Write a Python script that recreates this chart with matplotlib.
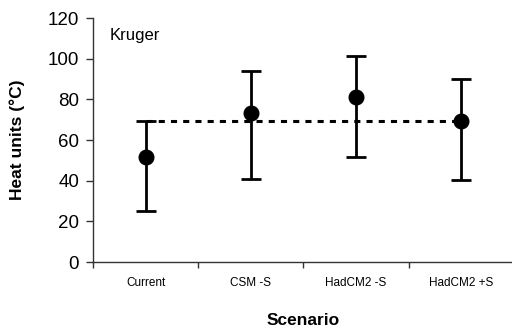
import matplotlib
matplotlib.use("Agg")
import matplotlib.pyplot as plt

plt.rcParams['font.family'] = ['Liberation Sans', 'DejaVu Sans']

scenarios = ["Current", "CSM -S", "HadCM2 -S", "HadCM2 +S"]
means = [51.5, 73.3, 81.0, 69.5]
lower = [25.2, 41.0, 51.8, 40.5]
upper = [69.3, 94.0, 101.5, 90.0]
baseline = 69.3  # upper bound of the current scenario

x = list(range(1, len(scenarios) + 1))
err_lo = [m - l for m, l in zip(means, lower)]
err_hi = [u - m for m, u in zip(means, upper)]

fig = plt.figure(figsize=(5.12, 3.36), dpi=100)
ax = fig.add_axes([0.1816, 0.2202, 0.822, 0.7262])

ax.plot([x[0], x[-1]], [baseline, baseline], color="black", lw=2.2,
        ls=(0, (2, 2)), zorder=1)
ax.errorbar(x, means, yerr=[err_lo, err_hi], fmt="o", color="black",
            ms=10.5, lw=2, capsize=7.5, capthick=2, zorder=3)

ax.set_xlim(0.5, 4.5)
ax.set_ylim(0, 120)
ax.set_yticks(range(0, 121, 20))
ax.set_xticks([0.5, 1.5, 2.5, 3.5, 4.5])
ax.set_xticklabels([])
ax.set_xticks(x, minor=True)
ax.set_xticklabels(scenarios, minor=True, fontsize=8.5)
ax.tick_params(axis="x", which="minor", length=0, pad=11)
ax.tick_params(axis="x", which="major", length=4, width=1, color="#333333")
ax.tick_params(axis="y", length=5, width=1, color="#333333", labelsize=13.5, pad=5)

for side in ["top", "right"]:
    ax.spines[side].set_visible(False)
for side in ["left", "bottom"]:
    ax.spines[side].set_color("#333333")
    ax.spines[side].set_linewidth(1)

ax.text(0.66, 111.5, "Kruger", fontsize=12, va="center", ha="left")
ax.set_ylabel("Heat units (°C)", fontsize=12.5, fontweight="bold", labelpad=16)
ax.set_xlabel("Scenario", fontsize=12.5, fontweight="bold", labelpad=17)

fig.savefig("out.png", dpi=100)
